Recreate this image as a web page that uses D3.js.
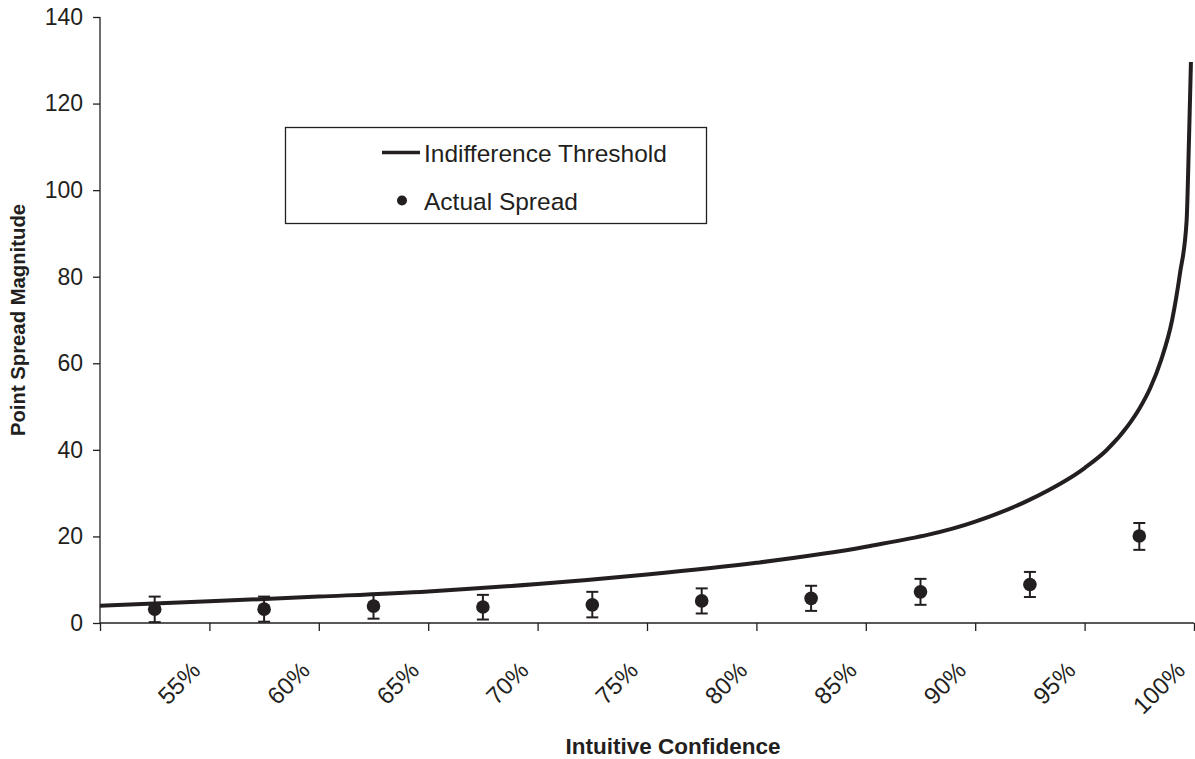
<!DOCTYPE html>
<html>
<head>
<meta charset="utf-8">
<script src="https://cdn.jsdelivr.net/npm/d3@7/dist/d3.min.js"></script>
<style>
  html, body { margin: 0; padding: 0; background: #fff; }
  svg { display: block; font-family: "Liberation Sans", Arial, sans-serif; }
</style>
</head>
<body>
<svg id="chart" width="1195" height="759"></svg>
<script>
// ---- data ----
const xTicks = [50, 55, 60, 65, 70, 75, 80, 85, 90, 95, 100];
const xTickLabels = ["", "55%", "60%", "65%", "70%", "75%", "80%", "85%", "90%", "95%", "100%"];
const yTicks = [0, 20, 40, 60, 80, 100, 120, 140];

const thresholdConfidence = [50, 55, 60, 65, 70, 75, 80, 85, 90, 92.5, 95, 96, 97, 97.5, 98, 98.5, 99, 99.36, 99.66, 99.77, 99.86];
const thresholdSpread     = [4.0, 5.0, 6.1, 7.3, 9.0, 11.2, 13.9, 17.6, 23.4, 28.5, 35.8, 39.9, 45.7, 49.5, 54.3, 60.8, 70, 80.8, 92.7, 111.5, 129.6];

const actualConfidence = [52.5, 57.5, 62.5, 67.5, 72.5, 77.5, 82.5, 87.5, 92.5, 97.5];
const actualSpread     = [3.2, 3.2, 3.9, 3.7, 4.2, 5.1, 5.7, 7.2, 8.9, 20.1];
const actualLow        = [0.2, 0.3, 1.0, 0.8, 1.3, 2.2, 2.8, 4.2, 6.0, 16.9];
const actualHigh       = [6.1, 6.1, 6.6, 6.5, 7.2, 8.0, 8.6, 10.2, 11.8, 23.1];

const seriesNames = ["Indifference Threshold", "Actual Spread"];
const xTitle = "Intuitive Confidence";
const yTitle = "Point Spread Magnitude";

// ---- layout ----
const ink = "#231f20";
const svg = d3.select("#chart");
const x = d3.scaleLinear().domain([50, 100]).range([100, 1194]);
const y = d3.scaleLinear().domain([0, 140]).range([623, 17]);

// y axis
const yAxis = svg.append("g").attr("transform", "translate(100,0)")
  .call(d3.axisLeft(y).tickValues(yTicks).tickSize(7).tickPadding(10).tickFormat(d3.format("d")));
yAxis.selectAll("path,line").attr("stroke", ink).attr("stroke-width", 1.3);
yAxis.select(".domain").attr("d", `M0,${y(140)}V${y(0)}`);
yAxis.selectAll("text").attr("fill", ink).attr("font-size", 23)
  .attr("font-family", "Liberation Sans, Arial, sans-serif");

// x axis
const xAxis = svg.append("g").attr("transform", `translate(0,${y(0)})`)
  .call(d3.axisBottom(x).tickValues(xTicks).tickSize(8).tickFormat((d, i) => xTickLabels[i]));
xAxis.selectAll("path,line").attr("stroke", ink).attr("stroke-width", 1.3);
xAxis.select(".domain").attr("d", `M${x(50)},0H${x(100)}`);
xAxis.selectAll("text")
  .attr("fill", ink).attr("font-size", 24)
  .attr("font-family", "Liberation Sans, Arial, sans-serif")
  .attr("text-anchor", "end")
  .attr("dy", 0).attr("y", 0)
  .attr("transform", "translate(-8,49) rotate(-45)");

// axis titles
svg.append("text").attr("x", 673).attr("y", 754)
  .attr("text-anchor", "middle").attr("font-size", 22.5).attr("font-weight", "bold")
  .attr("fill", ink).text(xTitle);
svg.append("text").attr("transform", "translate(25,320) rotate(-90)")
  .attr("text-anchor", "middle").attr("font-size", 20.3).attr("font-weight", "bold")
  .attr("fill", ink).text(yTitle);

// threshold line
const lineData = thresholdConfidence.map((c, i) => [c, thresholdSpread[i]]);
svg.append("path").datum(lineData)
  .attr("fill", "none").attr("stroke", ink).attr("stroke-width", 4)
  .attr("stroke-linejoin", "round")
  .attr("d", d3.line().x(d => x(d[0])).y(d => y(d[1])).curve(d3.curveMonotoneX));

// actual spread points with error bars
const pts = actualConfidence.map((c, i) => ({c, v: actualSpread[i], lo: actualLow[i], hi: actualHigh[i]}));
const g = svg.append("g").selectAll("g").data(pts).join("g");
g.append("line").attr("x1", d => x(d.c)).attr("x2", d => x(d.c))
  .attr("y1", d => y(d.lo)).attr("y2", d => y(d.hi)).attr("stroke", ink).attr("stroke-width", 2);
g.append("line").attr("x1", d => x(d.c) - 6).attr("x2", d => x(d.c) + 6)
  .attr("y1", d => y(d.hi)).attr("y2", d => y(d.hi)).attr("stroke", ink).attr("stroke-width", 2);
g.append("line").attr("x1", d => x(d.c) - 6).attr("x2", d => x(d.c) + 6)
  .attr("y1", d => y(d.lo)).attr("y2", d => y(d.lo)).attr("stroke", ink).attr("stroke-width", 2);
g.append("circle").attr("cx", d => x(d.c)).attr("cy", d => y(d.v)).attr("r", 6.8).attr("fill", ink);

// legend
const leg = svg.append("g");
leg.append("rect").attr("x", 285.5).attr("y", 127.5).attr("width", 421).attr("height", 96)
  .attr("fill", "#fff").attr("stroke", ink).attr("stroke-width", 1.3);
leg.append("line").attr("x1", 382).attr("x2", 420).attr("y1", 152.5).attr("y2", 152.5)
  .attr("stroke", ink).attr("stroke-width", 3.5);
leg.append("text").attr("x", 424).attr("y", 161.5).attr("font-size", 24.5).attr("fill", ink).text(seriesNames[0]);
leg.append("circle").attr("cx", 402).attr("cy", 200.5).attr("r", 5).attr("fill", ink);
leg.append("text").attr("x", 424).attr("y", 209.5).attr("font-size", 24.5).attr("fill", ink).text(seriesNames[1]);
</script>
</body>
</html>
